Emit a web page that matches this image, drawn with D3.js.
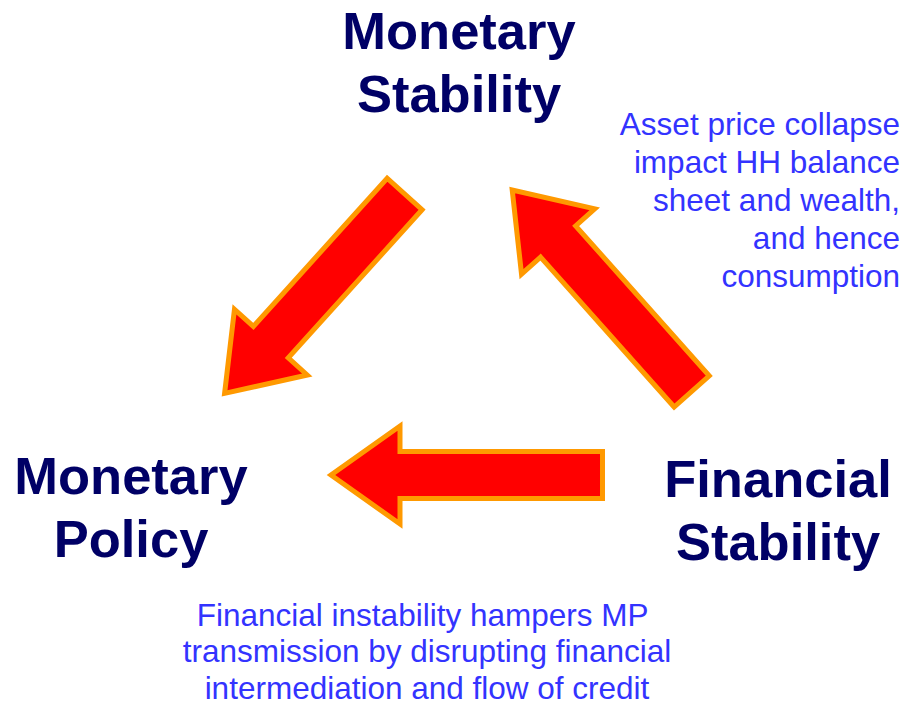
<!DOCTYPE html>
<html>
<head>
<meta charset="utf-8">
<script src="https://cdn.jsdelivr.net/npm/d3@7"></script>
<style>
  html, body { margin: 0; padding: 0; background: #ffffff; }
  svg { display: block; }
</style>
</head>
<body>
<svg id="chart" width="900" height="706"></svg>
<script>
// ---- content ----
const nodeNames = ["Monetary Stability", "Monetary Policy", "Financial Stability"];
const nodeLines = [["Monetary", "Stability"], ["Monetary", "Policy"], ["Financial", "Stability"]];
const linkFrom = ["Monetary Stability", "Financial Stability", "Financial Stability"];
const linkTo   = ["Monetary Policy", "Monetary Stability", "Monetary Policy"];
const noteRight = ["Asset price collapse", "impact HH balance", "sheet and wealth,", "and hence", "consumption"];
const noteBottom = ["Financial instability hampers MP\u00a0", "transmission by disrupting financial", "intermediation and flow of credit"];

// ---- layout ----
const nodePos = {
  "Monetary Stability": {x: 459, y: 49},
  "Monetary Policy": {x: 131, y: 494},
  "Financial Stability": {x: 778, y: 497}
};
// arrow tail-centre and tip (stroke centreline)
const arrowGeom = [
  {tail: [404.6, 194.0], tip: [224.6, 393.4]},
  {tail: [691.7, 391.4], tip: [512.2, 190.0]},
  {tail: [602.5, 475.0], tip: [331.0, 475.0]}
];
const shaftHalf = 23.5, headHalf = 49, headLen = 69;

const svg = d3.select("#chart");

// arrows
const arrowData = linkFrom.map((f, i) => ({from: f, to: linkTo[i], ...arrowGeom[i]}));
function arrowPath(d) {
  const [tx, ty] = d.tail, [px, py] = d.tip;
  const dx = px - tx, dy = py - ty;
  const L = Math.hypot(dx, dy);
  const ux = dx / L, uy = dy / L;      // along
  const nx = -uy, ny = ux;             // normal
  const pt = (a, b) => [tx + ux * a + nx * b, ty + uy * a + ny * b];
  const pts = [
    pt(0, -shaftHalf), pt(L - headLen, -shaftHalf), pt(L - headLen, -headHalf),
    pt(L, 0),
    pt(L - headLen, headHalf), pt(L - headLen, shaftHalf), pt(0, shaftHalf)
  ];
  return d3.line()(pts) + "Z";
}
svg.append("g").selectAll("path").data(arrowData).join("path")
  .attr("d", arrowPath)
  .attr("fill", "#ff0000")
  .attr("stroke", "#ff9900")
  .attr("stroke-width", 5)
  .attr("stroke-linejoin", "miter")
  .attr("stroke-miterlimit", 10);

// node labels
const nodeG = svg.append("g").selectAll("text").data(nodeNames).join("text")
  .attr("x", d => nodePos[d].x)
  .attr("y", d => nodePos[d].y)
  .attr("text-anchor", "middle")
  .attr("font-family", "'Liberation Sans', Arial, sans-serif")
  .attr("font-weight", "bold")
  .attr("font-size", 52.5)
  .attr("fill", "#000066");
nodeG.each(function(d, i) {
  d3.select(this).selectAll("tspan").data(nodeLines[i]).join("tspan")
    .attr("x", nodePos[d].x)
    .attr("dy", (t, j) => j === 0 ? 0 : 63)
    .text(t => t);
});

// right note
svg.append("text")
  .attr("text-anchor", "end")
  .attr("font-family", "'Liberation Sans', Arial, sans-serif")
  .attr("font-size", 31.5)
  .attr("fill", "#3333ff")
  .selectAll("tspan").data(noteRight).join("tspan")
  .attr("x", 900)
  .attr("y", (t, j) => 134.5 + j * 38)
  .text(t => t);

// bottom note
svg.append("text")
  .attr("text-anchor", "middle")
  .attr("font-family", "'Liberation Sans', Arial, sans-serif")
  .attr("font-size", 31.5)
  .attr("fill", "#3333ff")
  .selectAll("tspan").data(noteBottom).join("tspan")
  .attr("x", 427)
  .attr("y", (t, j) => 625.5 + j * 36.8)
  .text(t => t);
</script>
</body>
</html>
